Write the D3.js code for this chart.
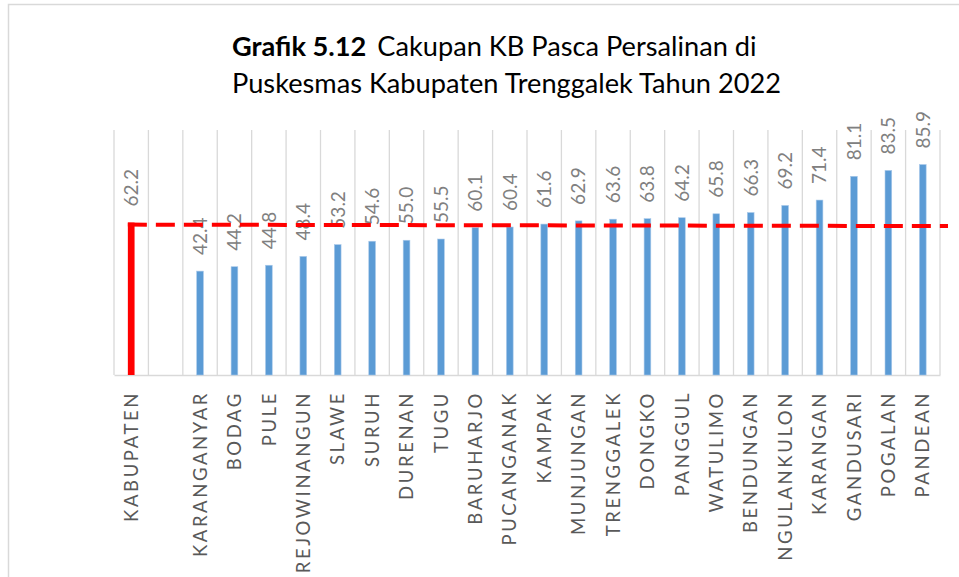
<!DOCTYPE html>
<html>
<head>
<meta charset="utf-8">
<script src="https://cdn.jsdelivr.net/npm/d3@7/dist/d3.min.js"></script>
<style>
  html, body { margin: 0; padding: 0; background: #fff; }
  svg { display: block; }
</style>
</head>
<body>
<svg id="chart" width="959" height="577"></svg>
<script>
// ---- data ----
const categories = ["KABUPATEN", "", "KARANGANYAR", "BODAG", "PULE", "REJOWINANGUN", "SLAWE", "SURUH",
  "DURENAN", "TUGU", "BARUHARJO", "PUCANGANAK", "KAMPAK", "MUNJUNGAN", "TRENGGALEK", "DONGKO",
  "PANGGUL", "WATULIMO", "BENDUNGAN", "NGULANKULON", "KARANGAN", "GANDUSARI", "POGALAN", "PANDEAN"];
const values = [62.2, null, 42.4, 44.2, 44.8, 48.4, 53.2, 54.6, 55.0, 55.5, 60.1, 60.4, 61.6, 62.9,
  63.6, 63.8, 64.2, 65.8, 66.3, 69.2, 71.4, 81.1, 83.5, 85.9];
const highlightCategory = "KABUPATEN";
const refLineStart = 62.2;   // dashed reference line (kabupaten value), left end
const refLineEnd = 61.6;     // right end (line is drawn slightly sloped in the original)
const yDomain = [0, 100];
const titleBold = "Grafik 5.12";
const titleRest = "Cakupan KB Pasca Persalinan di";
const titleLine2 = "Puskesmas Kabupaten Trenggalek Tahun 2022";

// ---- layout ----
const svg = d3.select("#chart");
const W = 959, H = 577;
const plot = { left: 114, right: 940, top: 130, bottom: 375 };
const FONT = "Lato, 'Open Sans', sans-serif";

// chart area border (only top & left visible)
svg.append("path")
  .attr("d", `M8.5,${H} V4.5 H${W}`)
  .attr("fill", "none").attr("stroke", "#d9d9d9").attr("stroke-width", 1.5);

const x = d3.scaleBand().domain(categories).range([plot.left, plot.right]).paddingInner(0).paddingOuter(0);
const y = d3.scaleLinear().domain(yDomain).range([plot.bottom, plot.top]);
const bw = x.bandwidth();
const barW = bw * 0.195;

// vertical gridlines at category boundaries
const bounds = categories.map(c => x(c)).concat([x.range()[1]]);
svg.append("g").selectAll("line").data(bounds).join("line")
  .attr("x1", d => d).attr("x2", d => d)
  .attr("y1", y(yDomain[1])).attr("y2", y(0))
  .attr("stroke", "#d9d9d9").attr("stroke-width", 1.3);

// category axis
const xAxis = svg.append("g").attr("transform", `translate(0,${y(0)})`)
  .call(d3.axisBottom(x).tickSize(0).tickPadding(0));
xAxis.select(".domain").attr("stroke", "#d9d9d9").attr("stroke-width", 1.5);
xAxis.selectAll(".tick text")
  .attr("transform", "rotate(-90)")
  .attr("text-anchor", "end")
  .attr("x", -16).attr("y", 0).attr("dy", "0.36em")
  .attr("font-family", FONT).attr("font-size", 18.5)
  .attr("letter-spacing", "2.6px")
  .attr("fill", "#595959");

// bars
const data = categories.map((c, i) => ({ c, v: values[i] })).filter(d => d.v != null);
svg.append("g").selectAll("rect").data(data).join("rect")
  .attr("x", d => x(d.c) + bw / 2 - barW / 2)
  .attr("width", barW)
  .attr("y", d => y(d.v))
  .attr("height", d => y(0) - y(d.v))
  .attr("fill", d => d.c === highlightCategory ? "#ff0000" : "#5b9bd5")
  .attr("stroke", d => d.c === highlightCategory ? "none" : "#a9c9ea")
  .attr("stroke-width", 0.6);

// value labels (rotated)
svg.append("g").selectAll("text").data(data).join("text")
  .attr("transform", d => `translate(${x(d.c) + bw / 2},${y(d.v) - 16}) rotate(-90)`)
  .attr("dy", "0.36em")
  .attr("text-anchor", "start")
  .attr("font-family", FONT).attr("font-size", 19)
  .attr("fill", "#808080")
  .text(d => d3.format(".1f")(d.v));

// dashed reference line (starts at the top-left corner of the highlighted bar)
const lineW = 4;
const refX1 = x(highlightCategory) + bw / 2 - barW / 2;
const refX2 = plot.right + 8;
svg.append("line")
  .attr("x1", refX1).attr("x2", refX2)
  .attr("y1", y(refLineStart) + lineW / 2).attr("y2", y(refLineEnd) + lineW / 2)
  .attr("stroke", "#ff0000").attr("stroke-width", lineW)
  .attr("stroke-dasharray", "19,9");

// title
const title = svg.append("text")
  .attr("x", 232).attr("y", 56)
  .attr("font-family", FONT).attr("font-size", 27.2).attr("fill", "#000");
title.append("tspan").attr("font-weight", "bold").text(titleBold);
title.append("tspan").attr("dx", 11).text(titleRest);
svg.append("text")
  .attr("x", 232).attr("y", 93)
  .attr("font-family", FONT).attr("font-size", 27.2).attr("fill", "#000")
  .text(titleLine2);
</script>
</body>
</html>
